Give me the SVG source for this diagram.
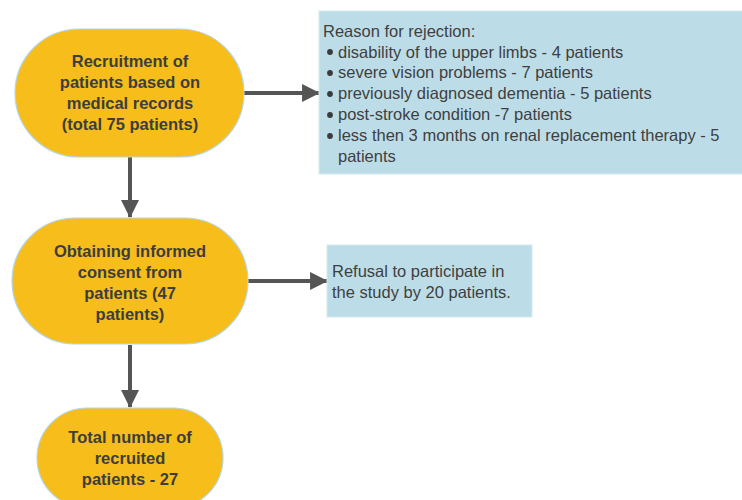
<svg xmlns="http://www.w3.org/2000/svg" width="742" height="500" viewBox="0 0 742 500">
<style>
.node{fill:#f6bd1b;stroke:#b5d6e4;stroke-width:1.2}
.nt{font-family:"Liberation Sans",Arial,sans-serif;font-weight:bold;font-size:16.5px;fill:#3d3d3d;text-anchor:middle}
.box{fill:#bcdde8;stroke:#d4e9f0;stroke-width:1}
.bt{font-family:"Liberation Sans",Arial,sans-serif;font-size:16.5px;fill:#3f3f3f}
.conn{stroke:#555;stroke-width:4;fill:none}
.bul{fill:#3a3a3a}
</style>
<defs>
<marker id="ah" markerUnits="userSpaceOnUse" markerWidth="18" markerHeight="18" refX="16" refY="8.5" orient="auto" viewBox="0 0 17 17">
<path d="M0,0 L17,8.5 L0,17 z" fill="#555"/>
</marker>
</defs>
<rect width="742" height="500" fill="#fff"/>
<g id="connectors">
<line class="conn" x1="244" y1="93" x2="319" y2="93" marker-end="url(#ah)"/>
<line class="conn" x1="130" y1="157" x2="130" y2="217" marker-end="url(#ah)"/>
<line class="conn" x1="248" y1="281" x2="327" y2="281" marker-end="url(#ah)"/>
<line class="conn" x1="130" y1="345" x2="130" y2="407" marker-end="url(#ah)"/>
</g>
<g id="node1">
<rect class="node" x="15" y="29" width="229" height="128" rx="64" ry="64"/>
<text class="nt" x="130" y="67">Recruitment of</text>
<text class="nt" x="130" y="88">patients based on</text>
<text class="nt" x="130" y="109">medical records</text>
<text class="nt" x="130" y="130">(total 75 patients)</text>
</g>
<g id="node2">
<rect class="node" x="12" y="218" width="236" height="126" rx="63" ry="63"/>
<text class="nt" x="130" y="257">Obtaining informed</text>
<text class="nt" x="130" y="278">consent from</text>
<text class="nt" x="130" y="299">patients (47</text>
<text class="nt" x="130" y="320">patients)</text>
</g>
<g id="node3">
<rect class="node" x="37" y="408" width="186" height="100" rx="50" ry="50"/>
<text class="nt" x="130" y="443">Total number of</text>
<text class="nt" x="130" y="464">recruited</text>
<text class="nt" x="130" y="485">patients - 27</text>
</g>
<g id="rejection">
<rect class="box" x="319" y="11" width="424" height="163"/>
<text class="bt" x="323" y="37">Reason for rejection:</text>
<circle class="bul" cx="330" cy="52" r="2.9"/>
<text class="bt" x="338" y="58">disability of the upper limbs - 4 patients</text>
<circle class="bul" cx="330" cy="73" r="2.9"/>
<text class="bt" x="338" y="78">severe vision problems - 7 patients</text>
<circle class="bul" cx="330" cy="94" r="2.9"/>
<text class="bt" x="338" y="99">previously diagnosed dementia - 5 patients</text>
<circle class="bul" cx="330" cy="115" r="2.9"/>
<text class="bt" x="338" y="120">post-stroke condition -7 patients</text>
<circle class="bul" cx="330" cy="136" r="2.9"/>
<text class="bt" x="338" y="141">less then 3 months on renal replacement therapy - 5</text>
<text class="bt" x="338" y="162">patients</text>
</g>
<g id="refusal">
<rect class="box" x="327" y="245" width="205" height="72"/>
<text class="bt" x="332" y="277">Refusal to participate in</text>
<text class="bt" x="332" y="298">the study by 20 patients.</text>
</g>
</svg>
